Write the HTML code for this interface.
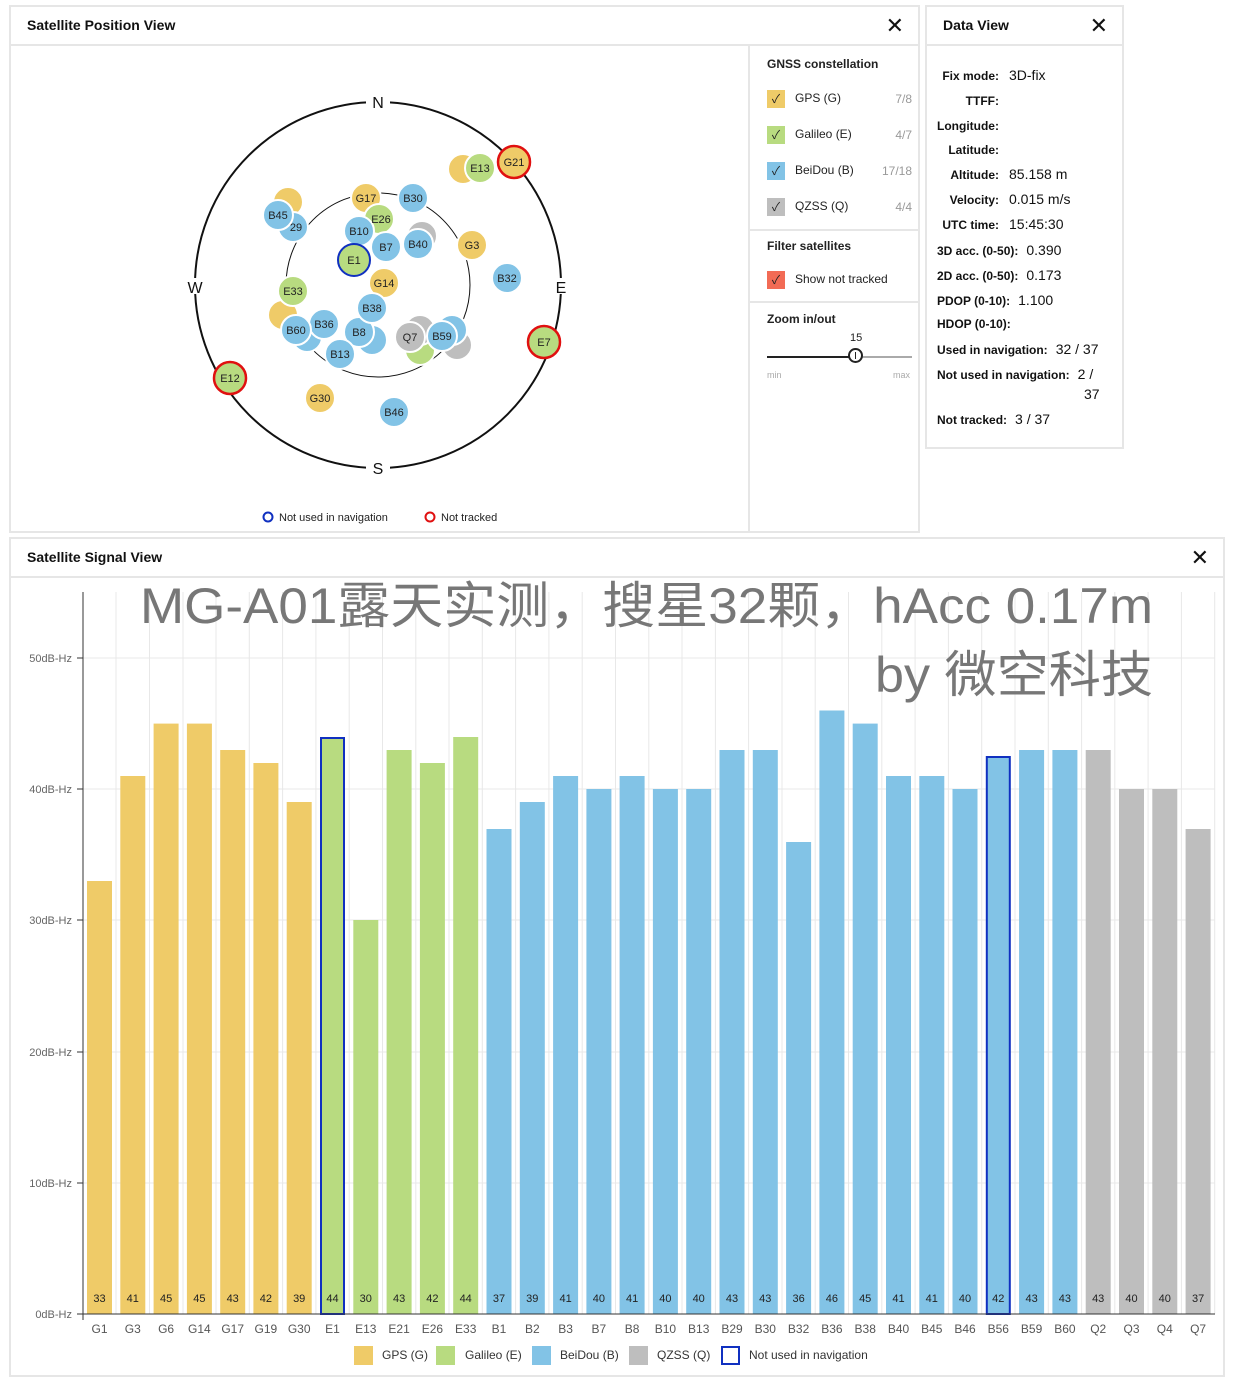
<!DOCTYPE html>
<html><head><meta charset="utf-8"><style>
body{margin:0;width:1237px;height:1368px;background:#fff;font-family:"Liberation Sans","Noto Sans CJK SC",sans-serif;position:relative;overflow:hidden}
.p{position:absolute;border:2px solid #e6e6e6;box-sizing:border-box;background:#fff}
.h{position:absolute;left:0;right:0;top:0;height:37px;border-bottom:2px solid #e6e6e6;font-weight:bold;font-size:14px;line-height:37px;padding-left:16px;color:#111}
.x{position:absolute;right:14px;top:0;font-size:22px;font-weight:normal}
.s{font-size:12px;color:#222}
.cb{display:inline-block;width:18px;height:18px;vertical-align:middle;margin-right:10px;text-align:center;font-size:12px;line-height:18px}
.dv div{position:absolute;font-size:12px;font-weight:bold;color:#111;white-space:nowrap}
.dv span{font-weight:normal;font-size:14px;margin-left:8px}
.dv div.h{font-size:14px;left:0;right:0;top:0}
.dv span.x{font-size:22px;margin-left:0}
</style></head><body>
<div class="p" style="left:9px;top:5px;width:911px;height:528px">
<div class="h">Satellite Position View<span class="x">✕</span></div>
<div style="position:absolute;left:737px;top:38px;width:2px;height:488px;background:#e6e6e6"></div>
<div style="position:absolute;left:739px;top:38px;width:170px" class="s">
<div style="font-weight:bold;position:absolute;left:17px;top:12px;white-space:nowrap">GNSS constellation</div>
<div style="position:absolute;left:17px;top:45px;width:145px"><span class="cb" style="background:#efcb68">✓</span>GPS (G)<span style="float:right;color:#999;line-height:18px">7/8</span></div>
<div style="position:absolute;left:17px;top:81px;width:145px"><span class="cb" style="background:#b8db80">✓</span>Galileo (E)<span style="float:right;color:#999;line-height:18px">4/7</span></div>
<div style="position:absolute;left:17px;top:117px;width:145px"><span class="cb" style="background:#82c3e6">✓</span>BeiDou (B)<span style="float:right;color:#999;line-height:18px">17/18</span></div>
<div style="position:absolute;left:17px;top:153px;width:145px"><span class="cb" style="background:#bebebe">✓</span>QZSS (Q)<span style="float:right;color:#999;line-height:18px">4/4</span></div>
<div style="position:absolute;left:0;top:184px;width:170px;height:2px;background:#e6e6e6"></div>
<div style="font-weight:bold;position:absolute;left:17px;top:194px">Filter satellites</div>
<div style="position:absolute;left:17px;top:226px;white-space:nowrap"><span class="cb" style="background:#f26b55">✓</span>Show not tracked</div>
<div style="position:absolute;left:0;top:256px;width:170px;height:2px;background:#e6e6e6"></div>
<div style="font-weight:bold;position:absolute;left:17px;top:267px">Zoom in/out</div>
<div style="position:absolute;left:100px;top:287px;font-size:11px">15</div>
<div style="position:absolute;left:17px;top:311px;width:90px;height:2px;background:#222"></div>
<div style="position:absolute;left:107px;top:311px;width:55px;height:2px;background:#aaa"></div>
<div style="position:absolute;left:98px;top:303px;width:15px;height:15px;border:2px solid #222;border-radius:50%;background:#fff;box-sizing:border-box"><div style="width:1.5px;height:7px;background:#222;margin:2px auto"></div></div>
<div style="position:absolute;left:17px;top:325px;font-size:9px;color:#aaa">min</div>
<div style="position:absolute;left:143px;top:325px;font-size:9px;color:#aaa">max</div>
</div>
</div>
<svg style="position:absolute;left:0;top:0" width="740" height="535" font-family="Liberation Sans,sans-serif" font-size="11" text-anchor="middle">
<circle cx="378" cy="285" r="183" fill="none" stroke="#111" stroke-width="2"/>
<circle cx="378" cy="285" r="92" fill="none" stroke="#111" stroke-width="1"/>
<g fill="#fff"><rect x="366" y="94" width="24" height="16"/><rect x="366" y="460" width="24" height="16"/><rect x="185" y="278" width="20" height="16"/><rect x="552" y="278" width="18" height="16"/></g>
<g font-size="16" fill="#111"><text x="378" y="108">N</text><text x="378" y="474">S</text><text x="195" y="293">W</text><text x="561" y="293">E</text></g>
<g stroke="#fff" stroke-width="2">
<circle cx="463" cy="169" r="15" fill="#efcb68"/><circle cx="480" cy="168" r="15" fill="#b8db80"/>
<circle cx="288" cy="202" r="15" fill="#efcb68"/><circle cx="293" cy="227" r="15" fill="#82c3e6"/><circle cx="278" cy="215" r="15" fill="#82c3e6"/>
<circle cx="366" cy="198" r="15" fill="#efcb68"/><circle cx="413" cy="198" r="15" fill="#82c3e6"/>
<circle cx="379" cy="219" r="15" fill="#b8db80"/><circle cx="359" cy="231" r="15" fill="#82c3e6"/>
<circle cx="422" cy="236" r="15" fill="#bebebe"/><circle cx="418" cy="244" r="15" fill="#82c3e6"/><circle cx="386" cy="247" r="15" fill="#82c3e6"/>
<circle cx="472" cy="245" r="15" fill="#efcb68"/><circle cx="384" cy="283" r="15" fill="#efcb68"/><circle cx="507" cy="278" r="15" fill="#82c3e6"/>
<circle cx="283" cy="315" r="15" fill="#efcb68"/><circle cx="293" cy="291" r="15" fill="#b8db80"/>
<circle cx="307" cy="337" r="15" fill="#82c3e6"/><circle cx="324" cy="324" r="15" fill="#82c3e6"/><circle cx="296" cy="330" r="15" fill="#82c3e6"/>
<circle cx="372" cy="340" r="15" fill="#82c3e6"/><circle cx="359" cy="332" r="15" fill="#82c3e6"/><circle cx="372" cy="308" r="15" fill="#82c3e6"/>
<circle cx="340" cy="354" r="15" fill="#82c3e6"/>
<circle cx="420" cy="350" r="15" fill="#b8db80"/><circle cx="420" cy="330" r="15" fill="#bebebe"/><circle cx="410" cy="337" r="15" fill="#bebebe"/>
<circle cx="457" cy="345" r="15" fill="#bebebe"/><circle cx="452" cy="330" r="15" fill="#82c3e6"/><circle cx="442" cy="336" r="15" fill="#82c3e6"/>
<circle cx="320" cy="398" r="15" fill="#efcb68"/><circle cx="394" cy="412" r="15" fill="#82c3e6"/>
</g>
<circle cx="354" cy="260" r="16" fill="#b8db80" stroke="#1030c0" stroke-width="2"/>
<g stroke="#e01010" stroke-width="2.5"><circle cx="514" cy="162" r="16" fill="#efcb68"/><circle cx="544" cy="342" r="16" fill="#b8db80"/><circle cx="230" cy="378" r="16" fill="#b8db80"/></g>
<g fill="#222"><text x="514" y="166">G21</text><text x="480" y="172">E13</text><text x="366" y="202">G17</text><text x="413" y="202">B30</text><text x="296" y="231">29</text><text x="278" y="219">B45</text><text x="381" y="223">E26</text><text x="359" y="235">B10</text><text x="418" y="248">B40</text><text x="386" y="251">B7</text><text x="472" y="249">G3</text><text x="354" y="264">E1</text><text x="384" y="287">G14</text><text x="507" y="282">B32</text><text x="293" y="295">E33</text><text x="324" y="328">B36</text><text x="296" y="334">B60</text><text x="359" y="336">B8</text><text x="372" y="312">B38</text><text x="340" y="358">B13</text><text x="410" y="341">Q7</text><text x="442" y="340">B59</text><text x="544" y="346">E7</text><text x="230" y="382">E12</text><text x="320" y="402">G30</text><text x="394" y="416">B46</text></g>
<circle cx="268" cy="517" r="4.5" fill="none" stroke="#1030c0" stroke-width="2"/><text x="279" y="521" text-anchor="start" fill="#222">Not used in navigation</text>
<circle cx="430" cy="517" r="4.5" fill="none" stroke="#e01010" stroke-width="2"/><text x="441" y="521" text-anchor="start" fill="#222">Not tracked</text>
</svg>
<div class="p dv" style="left:925px;top:5px;width:199px;height:444px">
<div class="h">Data View<span class="x">✕</span></div>
<div style="right:123px;top:62px">Fix mode:</div><div style="left:82px;top:60px;font-weight:normal;font-size:14px">3D-fix</div>
<div style="right:123px;top:87px">TTFF:</div>
<div style="left:10px;top:112px">Longitude:</div>
<div style="right:123px;top:136px">Latitude:</div>
<div style="right:123px;top:161px">Altitude:</div><div style="left:82px;top:159px;font-weight:normal;font-size:14px">85.158 m</div>
<div style="right:123px;top:186px">Velocity:</div><div style="left:82px;top:184px;font-weight:normal;font-size:14px">0.015 m/s</div>
<div style="right:123px;top:211px">UTC time:</div><div style="left:82px;top:209px;font-weight:normal;font-size:14px">15:45:30</div>
<div style="left:10px;top:235px">3D acc. (0-50):<span>0.390</span></div>
<div style="left:10px;top:260px">2D acc. (0-50):<span>0.173</span></div>
<div style="left:10px;top:285px">PDOP (0-10):<span>1.100</span></div>
<div style="left:10px;top:310px">HDOP (0-10):</div>
<div style="left:10px;top:334px">Used in navigation:<span>32 / 37</span></div>
<div style="left:10px;top:359px">Not used in navigation:<span>2 /</span></div>
<div style="left:157px;top:379px;font-weight:normal;font-size:14px">37</div>
<div style="left:10px;top:404px">Not tracked:<span>3 / 37</span></div>
</div>
<div class="p" style="left:9px;top:537px;width:1216px;height:840px">
<div class="h">Satellite Signal View<span class="x">✕</span></div>
</div>
<svg style="position:absolute;left:0;top:0" width="1237" height="1368" font-family="Liberation Sans,sans-serif" font-size="11">
<g stroke="#e8e8e8" stroke-width="1">
<line x1="83" x2="1215" y1="658" y2="658"/><line x1="83" x2="1215" y1="789" y2="789"/><line x1="83" x2="1215" y1="920" y2="920"/><line x1="83" x2="1215" y1="1052" y2="1052"/><line x1="83" x2="1215" y1="1183" y2="1183"/>
<line x1="116" x2="116" y1="592" y2="1314"/><line x1="149.5" x2="149.5" y1="592" y2="1314"/><line x1="183" x2="183" y1="592" y2="1314"/><line x1="216" x2="216" y1="592" y2="1314"/><line x1="249.3" x2="249.3" y1="592" y2="1314"/><line x1="282.6" x2="282.6" y1="592" y2="1314"/><line x1="315.9" x2="315.9" y1="592" y2="1314"/><line x1="349.2" x2="349.2" y1="592" y2="1314"/><line x1="382.5" x2="382.5" y1="592" y2="1314"/><line x1="415.8" x2="415.8" y1="592" y2="1314"/><line x1="449" x2="449" y1="592" y2="1314"/><line x1="482.3" x2="482.3" y1="592" y2="1314"/><line x1="515.6" x2="515.6" y1="592" y2="1314"/><line x1="548.9" x2="548.9" y1="592" y2="1314"/><line x1="582.2" x2="582.2" y1="592" y2="1314"/><line x1="615.5" x2="615.5" y1="592" y2="1314"/><line x1="648.8" x2="648.8" y1="592" y2="1314"/><line x1="682" x2="682" y1="592" y2="1314"/><line x1="715.4" x2="715.4" y1="592" y2="1314"/><line x1="748.6" x2="748.6" y1="592" y2="1314"/><line x1="782" x2="782" y1="592" y2="1314"/><line x1="815.2" x2="815.2" y1="592" y2="1314"/><line x1="848.5" x2="848.5" y1="592" y2="1314"/><line x1="881.8" x2="881.8" y1="592" y2="1314"/><line x1="915.1" x2="915.1" y1="592" y2="1314"/><line x1="948.4" x2="948.4" y1="592" y2="1314"/><line x1="981.7" x2="981.7" y1="592" y2="1314"/><line x1="1015" x2="1015" y1="592" y2="1314"/><line x1="1048.3" x2="1048.3" y1="592" y2="1314"/><line x1="1081.6" x2="1081.6" y1="592" y2="1314"/><line x1="1114.8" x2="1114.8" y1="592" y2="1314"/><line x1="1148.1" x2="1148.1" y1="592" y2="1314"/><line x1="1181.4" x2="1181.4" y1="592" y2="1314"/><line x1="1214.7" x2="1214.7" y1="592" y2="1314"/>
</g>
<g fill="#efcb68"><rect x="87" y="881" width="25" height="433"/><rect x="120.3" y="776" width="25" height="538"/><rect x="153.6" y="723.6" width="25" height="590.4"/><rect x="186.9" y="723.6" width="25" height="590.4"/><rect x="220.2" y="750" width="25" height="564"/><rect x="253.4" y="763" width="25" height="551"/><rect x="286.7" y="802" width="25" height="512"/></g>
<g fill="#b8db80"><rect x="321" y="738" width="23" height="576" stroke="#1030c0" stroke-width="2"/><rect x="353.3" y="920" width="25" height="394"/><rect x="386.6" y="750" width="25" height="564"/><rect x="419.9" y="763" width="25" height="551"/><rect x="453.2" y="737" width="25" height="577"/></g>
<g fill="#82c3e6"><rect x="486.5" y="829" width="25" height="485"/><rect x="519.8" y="802" width="25" height="512"/><rect x="553.1" y="776" width="25" height="538"/><rect x="586.4" y="789" width="25" height="525"/><rect x="619.6" y="776" width="25" height="538"/><rect x="652.9" y="789" width="25" height="525"/><rect x="686.2" y="789" width="25" height="525"/><rect x="719.5" y="750" width="25" height="564"/><rect x="752.8" y="750" width="25" height="564"/><rect x="786.1" y="842" width="25" height="472"/><rect x="819.4" y="710.5" width="25" height="603.5"/><rect x="852.7" y="723.6" width="25" height="590.4"/><rect x="886" y="776" width="25" height="538"/><rect x="919.3" y="776" width="25" height="538"/><rect x="952.5" y="789" width="25" height="525"/><rect x="986.8" y="757" width="23" height="557" stroke="#1030c0" stroke-width="2"/><rect x="1019.1" y="750" width="25" height="564"/><rect x="1052.4" y="750" width="25" height="564"/></g>
<g fill="#bebebe"><rect x="1085.7" y="750" width="25" height="564"/><rect x="1119" y="789" width="25" height="525"/><rect x="1152.3" y="789" width="25" height="525"/><rect x="1185.6" y="829" width="25" height="485"/></g>
<line x1="83" x2="83" y1="592" y2="1320" stroke="#333"/><line x1="77" x2="1215" y1="1314" y2="1314" stroke="#333"/>
<g stroke="#333"><line x1="77" x2="83" y1="658" y2="658"/><line x1="77" x2="83" y1="789" y2="789"/><line x1="77" x2="83" y1="920" y2="920"/><line x1="77" x2="83" y1="1052" y2="1052"/><line x1="77" x2="83" y1="1183" y2="1183"/></g>
<g fill="#666" text-anchor="end"><text x="72" y="662">50dB-Hz</text><text x="72" y="793">40dB-Hz</text><text x="72" y="924">30dB-Hz</text><text x="72" y="1056">20dB-Hz</text><text x="72" y="1187">10dB-Hz</text><text x="72" y="1318">0dB-Hz</text></g>
<g fill="#222" text-anchor="middle"><text x="99.5" y="1302">33</text><text x="132.8" y="1302">41</text><text x="166.1" y="1302">45</text><text x="199.4" y="1302">45</text><text x="232.7" y="1302">43</text><text x="265.9" y="1302">42</text><text x="299.2" y="1302">39</text><text x="332.5" y="1302">44</text><text x="365.8" y="1302">30</text><text x="399.1" y="1302">43</text><text x="432.4" y="1302">42</text><text x="465.7" y="1302">44</text><text x="499" y="1302">37</text><text x="532.3" y="1302">39</text><text x="565.6" y="1302">41</text><text x="598.9" y="1302">40</text><text x="632.1" y="1302">41</text><text x="665.4" y="1302">40</text><text x="698.7" y="1302">40</text><text x="732" y="1302">43</text><text x="765.3" y="1302">43</text><text x="798.6" y="1302">36</text><text x="831.9" y="1302">46</text><text x="865.2" y="1302">45</text><text x="898.5" y="1302">41</text><text x="931.8" y="1302">41</text><text x="965" y="1302">40</text><text x="998.3" y="1302">42</text><text x="1031.6" y="1302">43</text><text x="1064.9" y="1302">43</text><text x="1098.2" y="1302">43</text><text x="1131.5" y="1302">40</text><text x="1164.8" y="1302">40</text><text x="1198.1" y="1302">37</text></g>
<g fill="#555" text-anchor="middle" font-size="12"><text x="99.5" y="1333">G1</text><text x="132.8" y="1333">G3</text><text x="166.1" y="1333">G6</text><text x="199.4" y="1333">G14</text><text x="232.7" y="1333">G17</text><text x="265.9" y="1333">G19</text><text x="299.2" y="1333">G30</text><text x="332.5" y="1333">E1</text><text x="365.8" y="1333">E13</text><text x="399.1" y="1333">E21</text><text x="432.4" y="1333">E26</text><text x="465.7" y="1333">E33</text><text x="499" y="1333">B1</text><text x="532.3" y="1333">B2</text><text x="565.6" y="1333">B3</text><text x="598.9" y="1333">B7</text><text x="632.1" y="1333">B8</text><text x="665.4" y="1333">B10</text><text x="698.7" y="1333">B13</text><text x="732" y="1333">B29</text><text x="765.3" y="1333">B30</text><text x="798.6" y="1333">B32</text><text x="831.9" y="1333">B36</text><text x="865.2" y="1333">B38</text><text x="898.5" y="1333">B40</text><text x="931.8" y="1333">B45</text><text x="965" y="1333">B46</text><text x="998.3" y="1333">B56</text><text x="1031.6" y="1333">B59</text><text x="1064.9" y="1333">B60</text><text x="1098.2" y="1333">Q2</text><text x="1131.5" y="1333">Q3</text><text x="1164.8" y="1333">Q4</text><text x="1198.1" y="1333">Q7</text></g>
<g font-size="12" fill="#333"><rect x="354" y="1346" width="19" height="19" fill="#efcb68"/><text x="382" y="1359">GPS (G)</text><rect x="436" y="1346" width="19" height="19" fill="#b8db80"/><text x="465" y="1359">Galileo (E)</text><rect x="532" y="1346" width="19" height="19" fill="#82c3e6"/><text x="560" y="1359">BeiDou (B)</text><rect x="629" y="1346" width="19" height="19" fill="#bebebe"/><text x="657" y="1359">QZSS (Q)</text><rect x="722" y="1347" width="17" height="17" fill="none" stroke="#1030c0" stroke-width="2"/><text x="749" y="1359">Not used in navigation</text></g>
<g fill="#777" font-size="50" font-family="Liberation Sans,Noto Sans CJK SC,sans-serif"><text x="140" y="623" textLength="1013" lengthAdjust="spacingAndGlyphs">MG-A01露天实测，搜星32颗，hAcc 0.17m</text><text x="875" y="692" textLength="278" lengthAdjust="spacingAndGlyphs">by 微空科技</text></g>
</svg>
</body></html>
